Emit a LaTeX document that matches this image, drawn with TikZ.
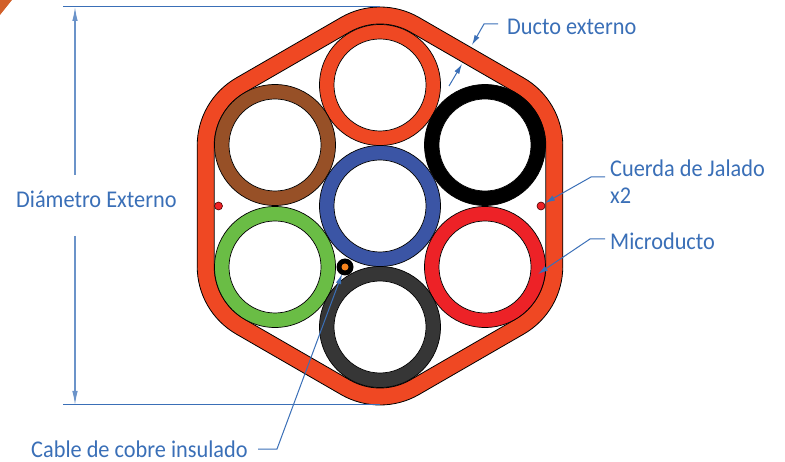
\documentclass[tikz,border=0pt]{standalone}
\usepackage{fontspec}
\setmainfont[FakeStretch=0.93]{Carlito}
\usetikzlibrary{arrows.meta}
\definecolor{leader}{HTML}{3A6FB7}
\definecolor{ductorange}{HTML}{EF4823}
\definecolor{tubebrown}{HTML}{975027}
\definecolor{tubeblue}{HTML}{3B55A5}
\definecolor{tubegreen}{HTML}{6ABD45}
\definecolor{tubered}{HTML}{ED2227}
\definecolor{tubegrey}{HTML}{363636}
\definecolor{copper}{HTML}{F7841D}
\definecolor{cornerorange}{HTML}{D2602A}
\tikzset{
  tube/.style={circle,draw=black,line width=.7pt,minimum size=121pt,inner sep=0pt},
  bore/.style={circle,draw=black,line width=.7pt,fill=white,minimum size=92pt,inner sep=0pt},
  cord/.style={circle,draw=black!70!red,line width=.6pt,fill=tubered,minimum size=8pt,inner sep=0pt},
  label/.style={text=leader,font=\fontsize{24}{28}\selectfont,anchor=base west,inner sep=0pt},
  lead/.style={draw=leader,line width=1pt},
  leadarrow/.style={lead,-{Latex[length=10pt,width=5.5pt]}},
  dimline/.style={draw=leader!75!white,line width=1.1pt}
}
\newcommand{\hexoutline}[1]{
  ++(60:#1) arc[start angle=60,end angle=120,radius=#1]
  -- ++(210:121pt) arc[start angle=120,end angle=180,radius=#1]
  -- ++(270:121pt) arc[start angle=180,end angle=240,radius=#1]
  -- ++(330:121pt) arc[start angle=240,end angle=300,radius=#1]
  -- ++(30:121pt) arc[start angle=300,end angle=360,radius=#1]
  -- ++(90:121pt) arc[start angle=0,end angle=60,radius=#1]
  -- cycle}
\begin{document}
\begin{tikzpicture}[x=1pt,y=-1pt]
\useasboundingbox (0,0) rectangle (785,462);
\fill[cornerorange] (0,0) -- (12,0) -- (0,15) -- cycle;
% outer duct
\coordinate (topc) at (380,85);
\fill[ductorange,even odd rule,draw=black,line width=.8pt]
  (topc) \hexoutline{78pt} (topc) \hexoutline{61pt};
% tubes
\node[tube,fill=ductorange] (t1) at (380,85) {}; \node[bore] (b1) at (t1) {};
\node[tube,fill=tubebrown] (t2) at (275,145) {}; \node[bore] (b2) at (t2) {};
\node[tube,fill=black] (t3) at (485,145) {}; \node[bore] (b3) at (t3) {};
\node[tube,fill=tubeblue] (t4) at (380,206) {}; \node[bore] (b4) at (t4) {};
\node[tube,fill=tubegreen] (t5) at (275,267) {}; \node[bore] (b5) at (t5) {};
\node[tube,fill=tubered] (t6) at (485,267) {}; \node[bore] (b6) at (t6) {};
\node[tube,fill=tubegrey] (t7) at (380,327) {}; \node[bore] (b7) at (t7) {};
% cords and copper cable
\node[cord] (cl) at (218.5,206) {};
\node[cord] (cr) at (541,206) {};
\node[circle,fill=black,minimum size=17pt,inner sep=0pt] (cu) at (345,267) {};
\node[circle,fill=copper,minimum size=7pt,inner sep=0pt] (cuc) at (cu) {};
% labels
\node[label] (lducto) at (507,35) {Ducto externo};
\node[label] (lcuerda) at (610,177) {Cuerda de Jalado};
\node[label] (lx) at (610,204) {x2};
\node[label] (lmicro) at (610,250) {Microducto};
\node[label] (ldiam) at (16,208) {Diámetro Externo};
\node[label] (lcable) at (31,457) {Cable de cobre insulado};
% dimension
\coordinate (dt0) at (63,7); \coordinate (dt1) at (380,7);
\coordinate (db0) at (63,405); \coordinate (db1) at (380,405);
\coordinate (da) at (75,7); \coordinate (db) at (75,405);
\coordinate (dg0) at (75,175); \coordinate (dg1) at (75,236);
\draw[lead] (dt0) -- (dt1);
\draw[lead] (db0) -- (db1);
\draw[dimline,-{Latex[length=14pt,width=5.5pt]}] (dg0) -- (da);
\draw[dimline,-{Latex[length=14pt,width=5.5pt]}] (dg1) -- (db);
% leaders
\coordinate (a0) at (498,24); \coordinate (a1) at (484,24); \coordinate (a2) at (472,45);
\draw[leadarrow] (a0) -- (a1) -- (a2);
\coordinate (e0) at (449,86); \coordinate (e1) at (462,64);
\draw[leadarrow] (e0) -- (e1);
\coordinate (c0) at (605,177); \coordinate (c1) at (591,177); \coordinate (c2) at (545,203);
\draw[leadarrow] (c0) -- (c1) -- (c2);
\coordinate (m0) at (605,239); \coordinate (m1) at (590,239); \coordinate (m2) at (538,274);
\draw[leadarrow] (m0) -- (m1) -- (m2);
\coordinate (k0) at (258,449); \coordinate (k1) at (277,449); \coordinate (k2) at (342,274);
\draw[leadarrow] (k0) -- (k1) -- (k2);
\end{tikzpicture}
\end{document}
